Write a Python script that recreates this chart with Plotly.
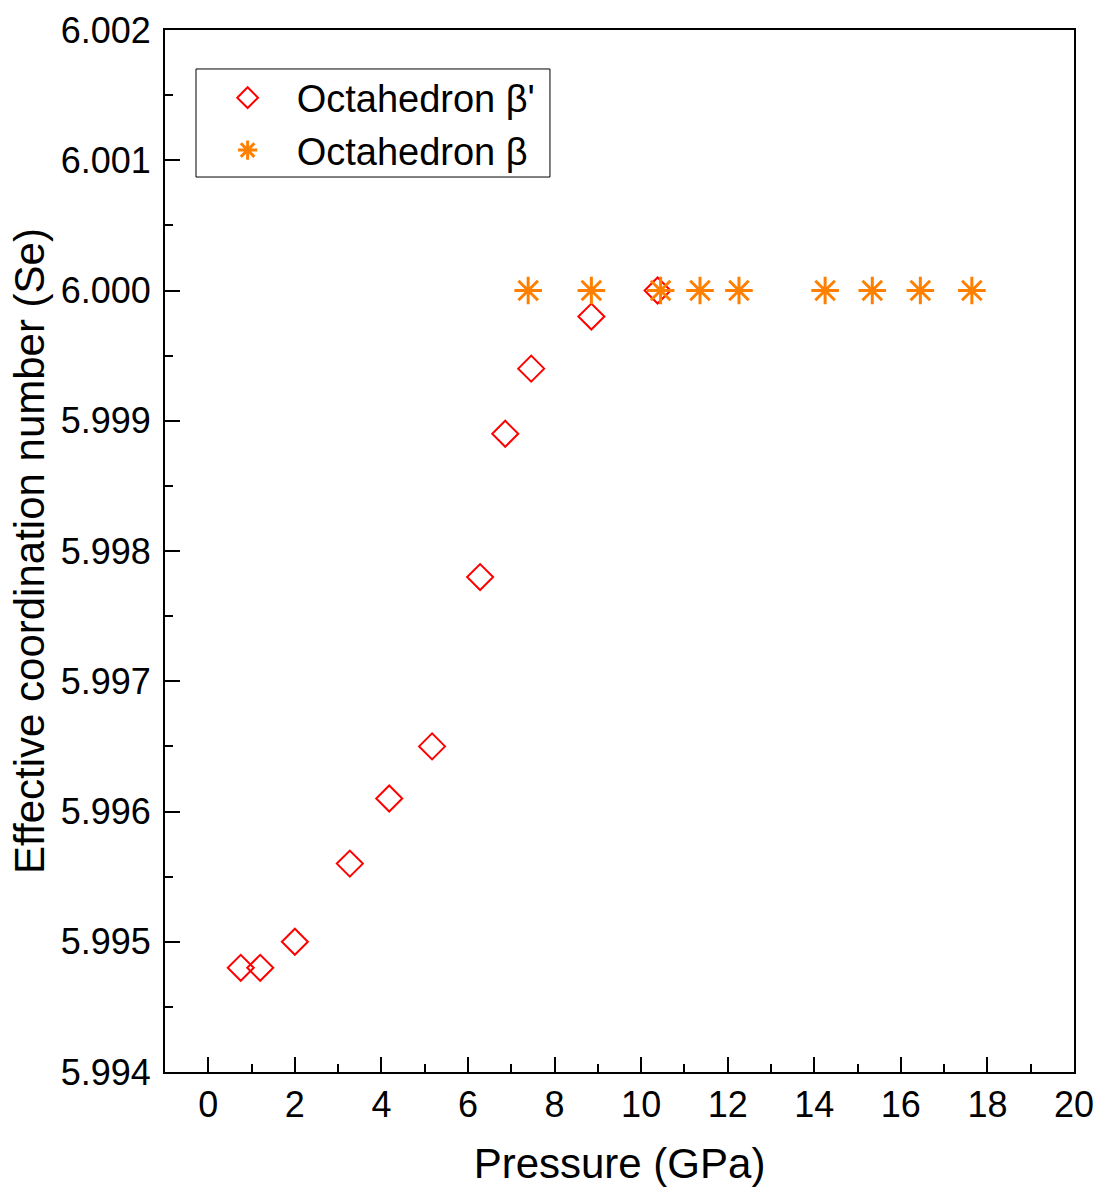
import plotly.graph_objects as go

p_beta_prime = [0.75, 1.2, 2.0, 3.27, 4.18, 5.17, 6.28, 6.86, 7.46, 8.85, 10.38]
ecn_beta_prime = [5.9948, 5.9948, 5.9950, 5.9956, 5.9961, 5.9965, 5.9978, 5.9989, 5.9994, 5.9998, 6.0000]

p_beta = [7.39, 8.85, 10.45, 11.36, 12.26, 14.25, 15.34, 16.45, 17.64]
ecn_beta = [6.0000] * 9

x_ticks = [0, 2, 4, 6, 8, 10, 12, 14, 16, 18, 20]
y_ticks = [5.994, 5.995, 5.996, 5.997, 5.998, 5.999, 6.000, 6.001, 6.002]

font_family = "Liberation Sans, Arial, sans-serif"

fig = go.Figure()
fig.add_trace(go.Scatter(
    x=p_beta_prime, y=ecn_beta_prime, mode="markers", name="Octahedron β'",
    marker=dict(symbol="diamond-open", size=20, color="#FF0000", line=dict(width=2, color="#FF0000")),
))
fig.add_trace(go.Scatter(
    x=p_beta, y=ecn_beta, mode="markers", name="Octahedron β",
    marker=dict(symbol="asterisk-open", size=23, color="#FF8000", line=dict(width=3, color="#FF8000")),
))

axis_common = dict(
    showline=True, linecolor="black", linewidth=2, mirror=True,
    ticks="inside", ticklen=15, tickwidth=2, tickcolor="black",
    showgrid=False, zeroline=False, automargin=False,
    tickfont=dict(family=font_family, size=36, color="black"),
)

# legend frame drawn as a shape (paper coords)
fig.add_shape(type="rect", xref="paper", yref="paper",
              x0=0.0341, x1=0.4235, y0=0.8589, y1=0.9626,
              line=dict(color="black", width=1), fillcolor="rgba(0,0,0,0)", layer="above")

fig.update_layout(
    width=1096, height=1187,
    margin=dict(l=165, r=22, t=30, b=115),
    paper_bgcolor="white", plot_bgcolor="white",
    font=dict(family=font_family, color="black"),
    xaxis=dict(
        range=[-1, 20], tickvals=x_ticks, ticktext=[str(v) for v in x_ticks],
        minor=dict(ticks="inside", ticklen=8, tickwidth=2, tickcolor="black", dtick=1, tick0=1),
        title=dict(text="Pressure (GPa)", font=dict(size=42), standoff=28),
        **axis_common,
    ),
    yaxis=dict(
        range=[5.994, 6.002], tickvals=y_ticks, ticktext=[f"{v:.3f}" for v in y_ticks],
        minor=dict(ticks="inside", ticklen=8, tickwidth=2, tickcolor="black", dtick=0.0005, tick0=5.9945),
        title=dict(text="Effective coordination number (Se)", font=dict(size=42), standoff=3),
        ticklabelstandoff=5,
        **axis_common,
    ),
    legend=dict(
        x=0.037, y=0.965, xanchor="left", yanchor="top",
        borderwidth=0, bgcolor="rgba(0,0,0,0)",
        font=dict(family=font_family, size=38, color="black"),
        itemwidth=88, tracegroupgap=0,
    ),
    showlegend=True,
)

fig.write_html(
    "out.html",
    config={"displayModeBar": False},
    post_script="document.body.style.margin='0';document.body.style.overflow='hidden';",
)
